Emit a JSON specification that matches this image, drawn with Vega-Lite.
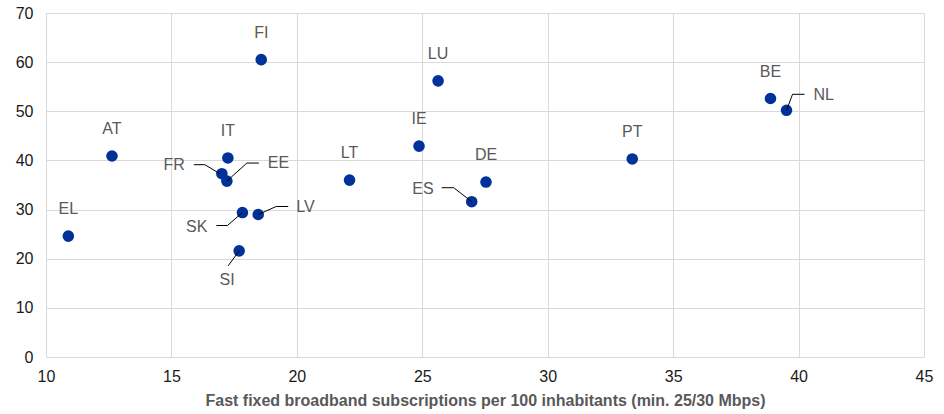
{
  "$schema": "https://vega.github.io/schema/vega-lite/v6.json",
  "width": 878,
  "height": 344,
  "autosize": {"type": "none"},
  "padding": {"left": 46, "top": 13, "right": 20, "bottom": 57},
  "background": "white",
  "config": {
    "view": {"stroke": null},
    "font": "Liberation Sans",
    "axis": {"gridColor": "#d9d9d9", "gridWidth": 1, "domain": false, "ticks": false, "labelFlush": false, "labelFont": "Liberation Sans", "labelFontSize": 16, "labelColor": "#1a1a1a"}
  },
  "data": {
    "values": [
      {"c": "EL", "x": 10.89, "y": 24.6},
      {"c": "AT", "x": 12.63, "y": 40.9},
      {"c": "FI", "x": 18.58, "y": 60.5},
      {"c": "IT", "x": 17.25, "y": 40.5},
      {"c": "FR", "x": 17.01, "y": 37.3},
      {"c": "EE", "x": 17.21, "y": 35.8},
      {"c": "SK", "x": 17.83, "y": 29.4},
      {"c": "LV", "x": 18.46, "y": 29.0},
      {"c": "SI", "x": 17.70, "y": 21.6},
      {"c": "LT", "x": 22.10, "y": 36.0},
      {"c": "IE", "x": 24.87, "y": 42.9},
      {"c": "LU", "x": 25.63, "y": 56.2},
      {"c": "ES", "x": 26.97, "y": 31.6},
      {"c": "DE", "x": 27.54, "y": 35.6},
      {"c": "PT", "x": 33.37, "y": 40.3},
      {"c": "BE", "x": 38.88, "y": 52.6},
      {"c": "NL", "x": 39.52, "y": 50.2}
    ]
  },
  "encoding": {
    "x": {"field": "x", "type": "quantitative", "scale": {"domain": [10, 45], "nice": false, "zero": false},
      "axis": {"values": [10, 15, 20, 25, 30, 35, 40, 45], "labelPadding": 11, "title": "Fast fixed broadband subscriptions per 100 inhabitants (min. 25/30 Mbps)", "titleFont": "Liberation Sans", "titleFontSize": 16, "titleFontWeight": "bold", "titleColor": "#595959", "titlePadding": 8}},
    "y": {"field": "y", "type": "quantitative", "scale": {"domain": [0, 70], "nice": false},
      "axis": {"values": [0, 10, 20, 30, 40, 50, 60, 70], "labelPadding": 13, "title": null}}
  },
  "layer": [
    {"mark": {"type": "circle", "size": 135, "opacity": 1, "color": "#003299"}},
    {"transform": [{"filter": "indexof(['EL','AT','FI','IT','LT','IE','LU','DE','PT','BE'], datum.c) >= 0"}],
     "mark": {"type": "text", "fontSize": 16, "color": "#595959", "align": "center", "baseline": "middle", "dy": -27},
     "encoding": {"text": {"field": "c"}}},
    {"transform": [{"filter": "datum.c == 'FR'"}],
     "layer": [
       {"mark": {"type": "rule", "color": "black", "strokeWidth": 1, "xOffset": -28, "yOffset": -9, "x2Offset": -17, "y2Offset": -9}, "encoding": {"x2": {"field": "x"}, "y2": {"field": "y"}}},
       {"mark": {"type": "rule", "color": "black", "strokeWidth": 1, "xOffset": -17, "yOffset": -9, "x2Offset": -2, "y2Offset": 0}, "encoding": {"x2": {"field": "x"}, "y2": {"field": "y"}}},
       {"mark": {"type": "text", "fontSize": 16, "color": "#595959", "align": "right", "baseline": "middle", "dx": -37, "dy": -9}, "encoding": {"text": {"field": "c"}}}
     ]},
    {"transform": [{"filter": "datum.c == 'EE'"}],
     "layer": [
       {"mark": {"type": "rule", "color": "black", "strokeWidth": 1, "xOffset": 0, "yOffset": 0, "x2Offset": 20, "y2Offset": -18}, "encoding": {"x2": {"field": "x"}, "y2": {"field": "y"}}},
       {"mark": {"type": "rule", "color": "black", "strokeWidth": 1, "xOffset": 20, "yOffset": -18, "x2Offset": 32, "y2Offset": -18}, "encoding": {"x2": {"field": "x"}, "y2": {"field": "y"}}},
       {"mark": {"type": "text", "fontSize": 16, "color": "#595959", "align": "left", "baseline": "middle", "dx": 41, "dy": -18}, "encoding": {"text": {"field": "c"}}}
     ]},
    {"transform": [{"filter": "datum.c == 'SK'"}],
     "layer": [
       {"mark": {"type": "rule", "color": "black", "strokeWidth": 1, "xOffset": -26, "yOffset": 13, "x2Offset": -15, "y2Offset": 13}, "encoding": {"x2": {"field": "x"}, "y2": {"field": "y"}}},
       {"mark": {"type": "rule", "color": "black", "strokeWidth": 1, "xOffset": -15, "yOffset": 13, "x2Offset": 0, "y2Offset": 0}, "encoding": {"x2": {"field": "x"}, "y2": {"field": "y"}}},
       {"mark": {"type": "text", "fontSize": 16, "color": "#595959", "align": "right", "baseline": "middle", "dx": -35, "dy": 14}, "encoding": {"text": {"field": "c"}}}
     ]},
    {"transform": [{"filter": "datum.c == 'LV'"}],
     "layer": [
       {"mark": {"type": "rule", "color": "black", "strokeWidth": 1, "xOffset": 0, "yOffset": 0, "x2Offset": 18, "y2Offset": -8}, "encoding": {"x2": {"field": "x"}, "y2": {"field": "y"}}},
       {"mark": {"type": "rule", "color": "black", "strokeWidth": 1, "xOffset": 18, "yOffset": -8, "x2Offset": 30, "y2Offset": -8}, "encoding": {"x2": {"field": "x"}, "y2": {"field": "y"}}},
       {"mark": {"type": "text", "fontSize": 16, "color": "#595959", "align": "left", "baseline": "middle", "dx": 38, "dy": -7}, "encoding": {"text": {"field": "c"}}}
     ]},
    {"transform": [{"filter": "datum.c == 'SI'"}],
     "layer": [
       {"mark": {"type": "rule", "color": "black", "strokeWidth": 1, "xOffset": 0, "yOffset": 0, "x2Offset": -11, "y2Offset": 15}, "encoding": {"x2": {"field": "x"}, "y2": {"field": "y"}}},
       {"mark": {"type": "text", "fontSize": 16, "color": "#595959", "align": "center", "baseline": "middle", "dx": -12, "dy": 29}, "encoding": {"text": {"field": "c"}}}
     ]},
    {"transform": [{"filter": "datum.c == 'ES'"}],
     "layer": [
       {"mark": {"type": "rule", "color": "black", "strokeWidth": 1, "xOffset": -30, "yOffset": -14, "x2Offset": -18, "y2Offset": -14}, "encoding": {"x2": {"field": "x"}, "y2": {"field": "y"}}},
       {"mark": {"type": "rule", "color": "black", "strokeWidth": 1, "xOffset": -18, "yOffset": -14, "x2Offset": 0, "y2Offset": 0}, "encoding": {"x2": {"field": "x"}, "y2": {"field": "y"}}},
       {"mark": {"type": "text", "fontSize": 16, "color": "#595959", "align": "right", "baseline": "middle", "dx": -38, "dy": -13}, "encoding": {"text": {"field": "c"}}}
     ]},
    {"transform": [{"filter": "datum.c == 'NL'"}],
     "layer": [
       {"mark": {"type": "rule", "color": "black", "strokeWidth": 1, "xOffset": 0, "yOffset": 0, "x2Offset": 6, "y2Offset": -16}, "encoding": {"x2": {"field": "x"}, "y2": {"field": "y"}}},
       {"mark": {"type": "rule", "color": "black", "strokeWidth": 1, "xOffset": 6, "yOffset": -16, "x2Offset": 18, "y2Offset": -16}, "encoding": {"x2": {"field": "x"}, "y2": {"field": "y"}}},
       {"mark": {"type": "text", "fontSize": 16, "color": "#595959", "align": "left", "baseline": "middle", "dx": 27, "dy": -15}, "encoding": {"text": {"field": "c"}}}
     ]}
  ]
}
